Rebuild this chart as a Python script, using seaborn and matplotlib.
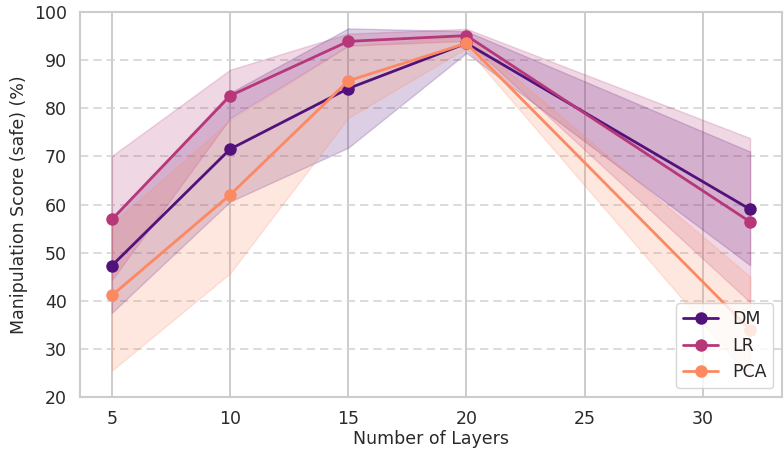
import numpy as np
import pandas as pd
import matplotlib
matplotlib.use("Agg")
import matplotlib.pyplot as plt
import seaborn as sns

layers = [5, 10, 15, 20, 32]
methods = ["DM", "LR", "PCA"]

dm_mean = [47.3, 71.5, 84.1, 93.5, 59.0]
dm_low = [37.5, 60.6, 71.8, 91.5, 47.4]
dm_high = [57.0, 83.2, 96.6, 96.0, 71.0]

lr_mean = [56.9, 82.6, 93.9, 95.1, 56.4]
lr_low = [44.3, 77.9, 93.0, 94.0, 39.7]
lr_high = [70.1, 88.0, 95.5, 96.5, 73.8]

pca_mean = [41.1, 62.0, 85.7, 93.5, 34.0]
pca_low = [25.5, 45.7, 78.0, 92.5, 24.0]
pca_high = [56.0, 77.5, 93.0, 95.0, 45.0]

means = {"DM": dm_mean, "LR": lr_mean, "PCA": pca_mean}
lows = {"DM": dm_low, "LR": lr_low, "PCA": pca_low}
highs = {"DM": dm_high, "LR": lr_high, "PCA": pca_high}

sns.set_theme(style="whitegrid")
plt.rcParams["font.family"] = ["DejaVu Sans"]

palette = sns.color_palette("magma", 3)
colors = dict(zip(methods, palette))

df = pd.DataFrame({
    "Layer": layers * 3,
    "Score": dm_mean + lr_mean + pca_mean,
    "Method": ["DM"] * 5 + ["LR"] * 5 + ["PCA"] * 5,
})

fig = plt.figure(figsize=(7.84, 4.5), dpi=100)
ax = fig.add_axes([80 / 784, (450 - 397) / 450, (782 - 80) / 784, (397 - 12) / 450])

for m in methods:
    ax.fill_between(layers, lows[m], highs[m], color=colors[m], alpha=0.2)

sns.lineplot(data=df, x="Layer", y="Score", hue="Method", palette=colors,
             marker="o", markersize=9, linewidth=2, markeredgewidth=0, ax=ax)

ax.set_xlim(3.65, 33.35)
ax.set_ylim(20, 100)
ax.set_xticks([5, 10, 15, 20, 25, 30])
ax.set_yticks(range(20, 101, 10))
ax.tick_params(labelsize=12.5, colors="#2a2a2a")
ax.set_xlabel("Number of Layers", fontsize=12.5, color="#2a2a2a", labelpad=1)
ax.set_ylabel("Manipulation Score (safe) (%)", fontsize=12.5, color="#2a2a2a")

ax.grid(axis="x", color="#c4c4c4", linewidth=1.2, linestyle="-")
ax.grid(axis="y", color="#d4d4d4", linewidth=1.2, linestyle=(0, (5, 3)))
for s in ax.spines.values():
    s.set_color("#cccccc")
    s.set_linewidth(1.5)

leg = ax.legend(loc="lower right", fontsize=12.5, title=None, frameon=True,
                borderaxespad=0.5)
leg.get_frame().set_edgecolor("#cccccc")

fig.savefig("out.png", dpi=100)
